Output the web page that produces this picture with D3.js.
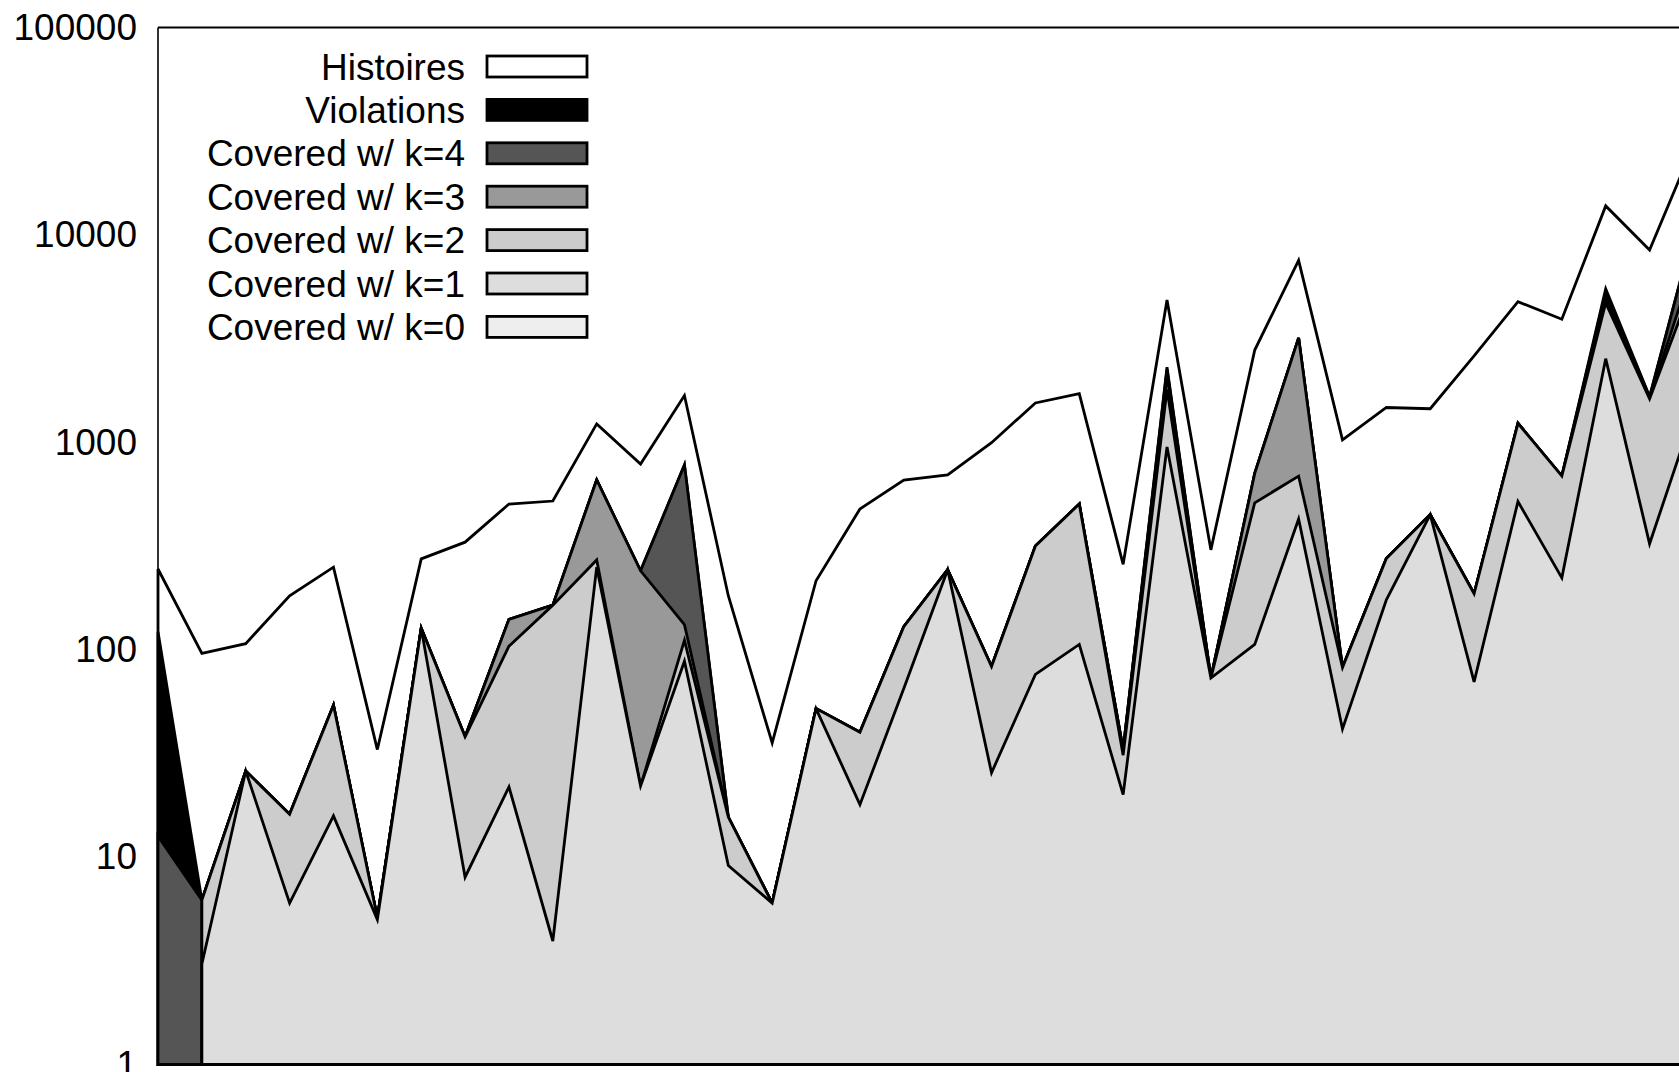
<!DOCTYPE html>
<html>
<head>
<meta charset="utf-8">
<script src="https://cdn.jsdelivr.net/npm/d3@7"></script>
<style>
  body { margin: 0; background: #fff; }
  svg { display: block; }
  text { font-family: "Liberation Sans", Arial, Helvetica, sans-serif; fill: #000; }
</style>
</head>
<body>
<div class="chart-wrapper"></div>
<script>
// one value per run (0 = nothing drawn on log scale)
var histoires  = [245, 96, 107, 182, 250, 33, 274, 330, 504, 521, 1227, 785, 1680, 182, 35.5, 215, 477, 658, 697, 995, 1548, 1718, 258, 4850, 303, 2786, 7530, 1027, 1472, 1452, 2612, 4765, 3920, 13800, 8450, 27000];
var violations = [122, 6.2, 26, 16.1, 54, 5.1, 127, 38, 140, 164, 658, 240, 778, 15.6, 6, 52, 40, 129, 243, 83, 316, 504, 33, 2300, 73, 708, 3186, 82, 275, 448, 186, 1234, 687, 5500, 1660, 10400];
var coveredK4  = [12.6, 6.2, 26, 16.1, 54, 5.1, 127, 38, 140, 164, 658, 240, 778, 15.6, 6, 52, 40, 129, 243, 83, 316, 504, 33, 2250, 73, 708, 3186, 82, 275, 448, 186, 1234, 687, 5300, 1652, 10400];
var coveredK3  = [0, 6.2, 26, 16.1, 54, 5.1, 127, 38, 140, 164, 658, 240, 132, 15.6, 6, 52, 40, 129, 243, 83, 316, 504, 33, 2100, 73, 708, 3186, 82, 275, 448, 186, 1234, 687, 5000, 1640, 7200];
var coveredK2  = [0, 6.2, 26, 16.1, 54, 5.1, 127, 38, 104, 164, 271, 22, 111, 15.6, 6, 52, 40, 129, 243, 83, 316, 504, 31, 1800, 73, 511, 687, 82, 275, 448, 186, 1234, 687, 4700, 1620, 5900];
var coveredK1  = [0, 3.05, 26, 6.0, 15.8, 5.0, 127, 8.0, 21.8, 3.94, 250, 22, 88, 9.1, 6, 52, 17.9, 65, 243, 25.5, 76, 106, 20, 950, 73, 106, 427, 41.5, 174, 448, 70, 518, 222, 2530, 324, 1384];
var coveredK0  = [0, 0, 0, 0, 0, 0, 0, 0, 0, 0, 0, 0, 0, 0, 0, 0, 0, 0, 0, 0, 0, 0, 0, 0, 0, 0, 0, 0, 0, 0, 0, 0, 0, 0, 0, 0];

var seriesNames  = ["Histoires", "Violations", "Covered w/ k=4", "Covered w/ k=3", "Covered w/ k=2", "Covered w/ k=1", "Covered w/ k=0"];
var seriesValues = [histoires, violations, coveredK4, coveredK3, coveredK2, coveredK1, coveredK0];
var seriesFills  = ["#ffffff", "#000000", "#555555", "#999999", "#cccccc", "#dddddd", "#eeeeee"];
var yTicks = [1, 10, 100, 1000, 10000, 100000];

var width = 1679, height = 1072;
var plotLeft = 158, plotTop = 27.5, plotBottom = 1064.5;
var step = 43.87;

var svg = d3.select(".chart-wrapper").append("svg")
  .attr("width", width)
  .attr("height", height);

// x: run index, the plot runs on past the right edge of the picture
var x = d3.scaleLinear()
  .domain([0, histoires.length - 1])
  .range([plotLeft, plotLeft + step * (histoires.length - 1)]);

var y = d3.scaleLog()
  .domain([1, 100000])
  .range([plotBottom, plotTop]);

var area = d3.area()
  .defined(function(d) { return d > 0; })
  .x(function(d, i) { return x(i); })
  .y0(y(1))
  .y1(function(d) { return y(d); });

// back to front: each layer is filled down to 1 and overlaps the previous
svg.selectAll(".layer")
  .data(seriesValues)
  .enter().append("path")
  .attr("class", "layer")
  .attr("d", function(d) { var p = area(d); return p ? p + "Z" : null; })
  .attr("fill", function(d, i) { return seriesFills[i]; })
  .attr("stroke", "#000")
  .attr("stroke-width", 2.8)
  .attr("stroke-linejoin", "miter");

// frame (the right side is cut off)
svg.append("path")
  .attr("d", "M" + (width + 10) + "," + plotTop + "H" + plotLeft)
  .attr("stroke", "#000")
  .attr("stroke-width", 2);
svg.append("path")
  .attr("d", "M" + plotLeft + "," + plotTop + "V" + plotBottom + "H" + (width + 10))
  .attr("fill", "none")
  .attr("stroke", "#000")
  .attr("stroke-width", 1.6);

// y axis labels
var yAxis = d3.axisLeft(y)
  .tickValues(yTicks)
  .tickFormat(d3.format("d"))
  .tickSize(0)
  .tickPadding(21);

svg.append("g")
  .attr("transform", "translate(" + plotLeft + ",0)")
  .call(yAxis)
  .call(function(g) { g.select(".domain").remove(); })
  .selectAll("text")
  .style("font-family", "'Liberation Sans', Arial, Helvetica, sans-serif")
  .style("font-size", "37px")
  .attr("fill", "#000");

// legend
var legend = svg.selectAll(".legend")
  .data(seriesNames)
  .enter().append("g")
  .attr("class", "legend")
  .attr("transform", function(d, i) { return "translate(0," + (66.5 + i * 43.4) + ")"; });

legend.append("text")
  .attr("x", 465)
  .attr("y", 13)
  .attr("text-anchor", "end")
  .style("font-size", "37px")
  .text(function(d) { return d; });

legend.append("rect")
  .attr("x", 487)
  .attr("y", -10.5)
  .attr("width", 100)
  .attr("height", 21)
  .attr("fill", function(d, i) { return seriesFills[i]; })
  .attr("stroke", "#000")
  .attr("stroke-width", 2.8);
</script>
</body>
</html>
